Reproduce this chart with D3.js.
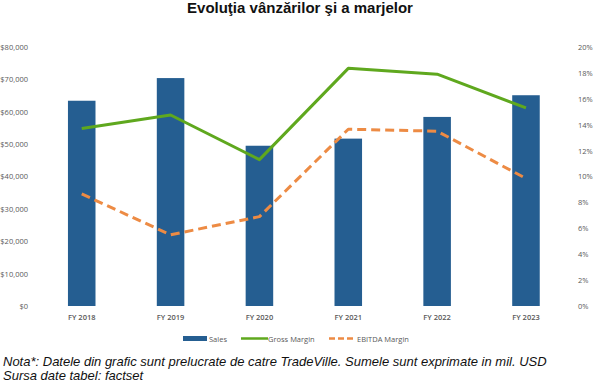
<!DOCTYPE html>
<html><head><meta charset="utf-8">
<script src="https://cdn.jsdelivr.net/npm/d3@7"></script>
<style>
html,body{margin:0;padding:0;background:#fff;}
svg{display:block;}
</style></head>
<body>
<script>
const categories = ["FY 2018","FY 2019","FY 2020","FY 2021","FY 2022","FY 2023"];
const sales = [63400, 70400, 49500, 51700, 58400, 65100];
const grossMargin = [13.7, 14.75, 11.3, 18.35, 17.9, 15.3];
const ebitdaMargin = [8.65, 5.5, 6.9, 13.65, 13.5, 9.85];
const leftTicks = [0,10000,20000,30000,40000,50000,60000,70000,80000];
const rightTicks = [0,2,4,6,8,10,12,14,16,18,20];
const title = "Evoluţia vânzărilor şi a marjelor";
const legendLabels = ["Sales","Gross Margin","EBITDA Margin"];
const notes = ["Nota*: Datele din grafic sunt prelucrate de catre TradeVille. Sumele sunt exprimate in mil. USD","Sursa date tabel: factset"];

const W=600,H=382;
const svg=d3.select("body").append("svg").attr("width",W).attr("height",H);
const axisFont="'Open Sans', 'Liberation Sans', sans-serif";

const x=d3.scaleBand().domain(categories).range([37.3,570.4]).paddingInner(0.69).paddingOuter(0.345);
const yL=d3.scaleLinear().domain([0,80000]).range([306,47]);
const yR=d3.scaleLinear().domain([0,20]).range([306,47]);

svg.append("text").attr("x",300).attr("y",13).attr("text-anchor","middle")
  .style("font-family","'Liberation Sans', Arial, sans-serif").style("font-weight","bold").style("font-size","15px").attr("fill","#111")
  .text(title);

// left axis
const gl=svg.append("g").attr("transform","translate(28,0)")
  .call(d3.axisLeft(yL).tickValues(leftTicks).tickSize(0).tickPadding(0).tickFormat(d=>"$"+d3.format(",")(d)));
gl.select(".domain").remove();
gl.selectAll("text").style("font-family",axisFont).style("font-size","7.5px").attr("fill","#595959");

const gr=svg.append("g").attr("transform","translate(578,0)")
  .call(d3.axisRight(yR).tickValues(rightTicks).tickSize(0).tickPadding(0).tickFormat(d=>d+"%"));
gr.select(".domain").remove();
gr.selectAll("text").style("font-family",axisFont).style("font-size","7.5px").attr("fill","#595959");

const gx=svg.append("g").attr("transform","translate(0,306)")
  .call(d3.axisBottom(x).tickSize(0).tickPadding(9));
gx.select(".domain").remove();
gx.selectAll("text").style("font-family",axisFont).style("font-size","7.5px").style("font-weight","600").attr("fill","#595959");

// bars
svg.append("g").selectAll("rect").data(categories).join("rect")
  .attr("x",d=>x(d)).attr("width",x.bandwidth())
  .attr("y",(d,i)=>yL(sales[i])).attr("height",(d,i)=>yL(0)-yL(sales[i]))
  .attr("fill","#255e91");

const line=d3.line().x((d,i)=>x(categories[i])+x.bandwidth()/2).y(d=>yR(d));
svg.append("path").datum(grossMargin).attr("d",line).attr("fill","none")
  .attr("stroke","#5fa81e").attr("stroke-width",3).attr("stroke-linejoin","round");
svg.append("path").datum(ebitdaMargin).attr("d",line).attr("fill","none")
  .attr("stroke","#ed8b44").attr("stroke-width",3).attr("stroke-dasharray","9,5").attr("stroke-linejoin","round");

// legend
const lg=svg.append("g").style("font-family",axisFont).style("font-size","7.5px").attr("fill","#595959");
lg.append("rect").attr("x",183).attr("y",336).attr("width",24).attr("height",5).attr("fill","#255e91");
lg.append("text").attr("x",209).attr("y",341.5).text(legendLabels[0]);
lg.append("line").attr("x1",241).attr("x2",268).attr("y1",338.5).attr("y2",338.5).attr("stroke","#5fa81e").attr("stroke-width",2.5);
lg.append("text").attr("x",268).attr("y",341.5).text(legendLabels[1]);
lg.append("line").attr("x1",329).attr("x2",356).attr("y1",338.5).attr("y2",338.5).attr("stroke","#ed8b44").attr("stroke-width",2.5).attr("stroke-dasharray","6,3");
lg.append("text").attr("x",357).attr("y",341.5).text(legendLabels[2]);

// notes
svg.append("g").selectAll("text").data(notes).join("text")
  .attr("x",3).attr("y",(d,i)=>366+i*13.5)
  .style("font-family","'Liberation Sans', Arial, sans-serif").style("font-style","italic").style("font-size","13px").attr("fill","#111")
  .text(d=>d);
</script>
</body></html>
